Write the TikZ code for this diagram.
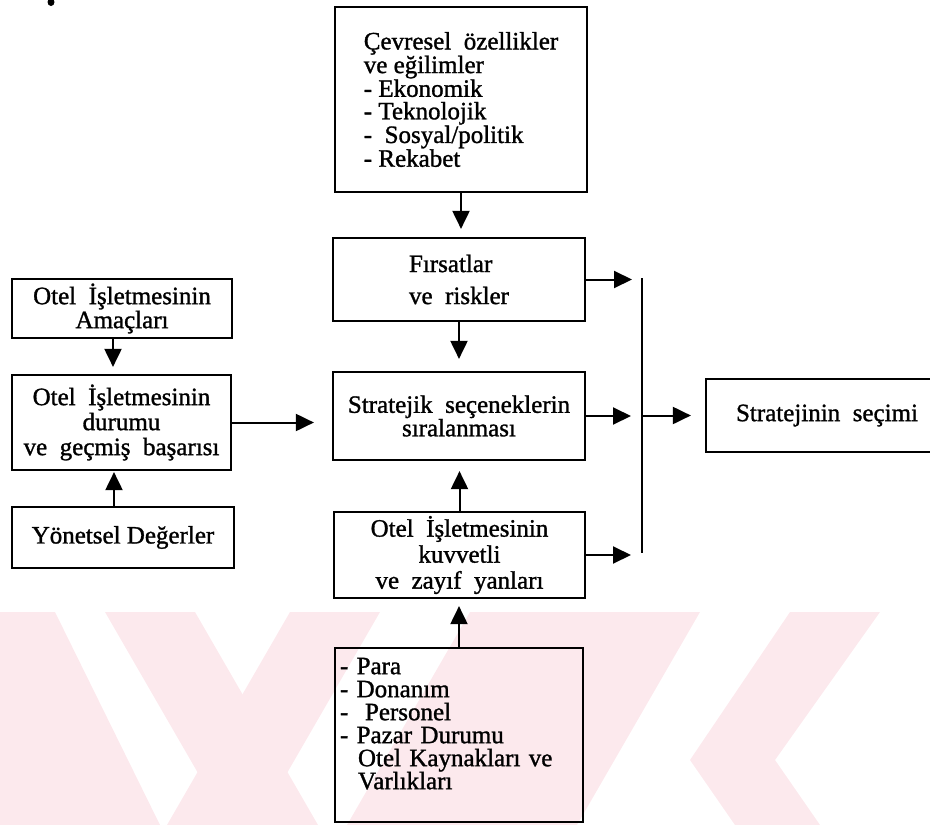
\documentclass[tikz,border=0pt]{standalone}
\usepackage{fontspec}
\setmainfont{Liberation Serif}[BoldFont=Liberation Serif, BoldFeatures={FakeBold=1.2}]
\usetikzlibrary{arrows.meta}
\definecolor{wmpink}{RGB}{252,233,237}

\begin{document}
\begin{tikzpicture}[x=1pt,y=-1pt,
  box/.style={draw, line width=2.2pt, inner sep=0pt, font=\fontsize{25}{25}\selectfont\bfseries},
  arr/.style={line width=2pt, -{Triangle[length=18pt,width=17pt]}},
  bar/.style={line width=1.6pt},
  wm/.style={fill=wmpink, draw=none}
]
\useasboundingbox (0,0) rectangle (930,825);

% faint background emblem
\fill[wm] (0,612) -- (55,612) -- (160,825) -- (0,825) -- cycle;
\fill[wm] (105,612) -- (195,612) -- (318,825) -- (228,825) -- cycle;
\fill[wm] (290,612) -- (380,612) -- (257,825) -- (167,825) -- cycle;
\fill[wm] (470,612) -- (700,612) -- (577,825) -- (347,825) -- cycle;
\fill[wm] (790,612) -- (880,612) -- (775,760) -- (820,825) -- (735,825) -- (690,760) -- cycle;

% small ink mark
\fill (51,2) ellipse (3.5 and 4);

% boxes
\node[box, minimum width=252pt, minimum height=185pt, align=left,
      font=\fontsize{25}{22.5}\selectfont\bfseries] (env) at (461,99.5)
  {Çevresel\ \ özellikler\\ ve eğilimler\\ - Ekonomik\\ - Teknolojik\\ -\ \ Sosyal/politik\\ - Rekabet};

\node[box, minimum width=252pt, minimum height=83pt, align=left,
      font=\fontsize{25}{32}\selectfont\bfseries] (opp) at (459,279.5)
  {Fırsatlar\\ ve\ \ riskler};

\node[box, minimum width=252pt, minimum height=88pt, align=center,
      font=\fontsize{25}{23.5}\selectfont\bfseries] (rank) at (459,416)
  {Stratejik\ \ seçeneklerin\\ sıralanması};

\node[box, minimum width=251pt, minimum height=86pt, align=center,
      font=\fontsize{25}{26}\selectfont\bfseries] (ks) at (459.5,555)
  {Otel\ \ İşletmesinin\\ kuvvetli\\ ve\ \ zayıf\ \ yanları};

\node[box, minimum width=248pt, minimum height=174pt, align=left, text width=238pt,
      font=\fontsize{25}{23}\selectfont\bfseries] (res) at (459,735)
  {- Para\\ - Donanım\\ -\ \ Personel\\ - Pazar Durumu\\ \hspace*{18pt}Otel Kaynakları ve\\ \hspace*{18pt}Varlıkları\\ \mbox{}};

\node[box, minimum width=242pt, minimum height=73pt] (choice) at (827,415.5)
  {Stratejinin\ \ seçimi};

\node[box, minimum width=220pt, minimum height=59pt, align=center,
      font=\fontsize{25}{24}\selectfont\bfseries] (goal) at (122,308.5)
  {Otel\ \ İşletmesinin\\ Amaçları};

\node[box, minimum width=219pt, minimum height=95pt, align=center,
      font=\fontsize{25}{25}\selectfont\bfseries] (cur) at (121.5,422.5)
  {Otel\ \ İşletmesinin\\ durumu\hspace*{20pt}\\ ve\ \ geçmiş\ \ başarısı};

\node[box, minimum width=222pt, minimum height=61pt] (val) at (123,537.5)
  {Yönetsel Değerler};

% collecting bar
\coordinate (barTop) at (642,278);
\coordinate (barBot) at (642,553);
\draw[bar] (barTop) -- (barBot);

% connectors
\draw[arr, shorten >=8pt] (env.south) -- (env.south |- opp.north);
\draw[arr, shorten >=12pt] (opp.south) -- (opp.south |- rank.north);
\draw[arr, shorten >=10pt] (ks.north) -- (ks.north |- rank.south);
\draw[arr, shorten >=7pt] (res.north) -- (res.north |- ks.south);
\draw[arr, shorten >=7pt] ([xshift=-9pt]goal.south) -- ([xshift=-9pt]goal.south |- cur.north);
\draw[arr, shorten >=1pt] ([xshift=-9pt]val.north) -- ([xshift=-9pt]val.north |- cur.south);
\draw[arr, shorten >=18pt] (cur.east) -- (cur.east -| rank.west);
\draw[arr, shorten >=10pt] (opp.east) -- (opp.east -| barTop);
\draw[arr, shorten >=11pt] (rank.east) -- (rank.east -| barTop);
\draw[arr, shorten >=11pt] (ks.east) -- (ks.east -| barTop);
\draw[arr, shorten >=14pt] (barTop |- choice.west) -- (choice.west);
\end{tikzpicture}
\end{document}
